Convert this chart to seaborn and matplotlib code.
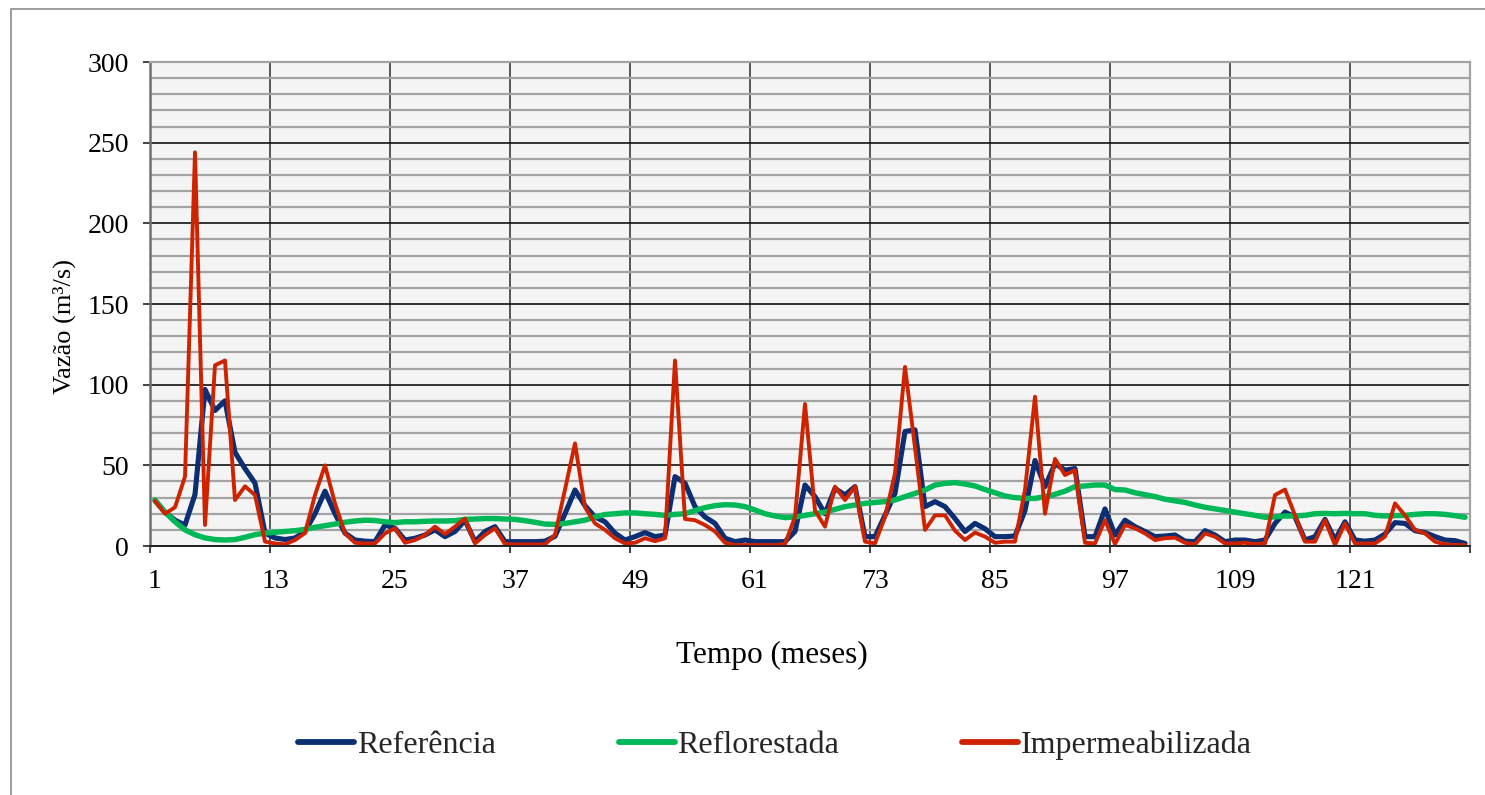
import numpy as np
import pandas as pd
import matplotlib
matplotlib.use("Agg")
import matplotlib.pyplot as plt
from matplotlib.ticker import MultipleLocator, FixedLocator, NullFormatter, FixedFormatter
from matplotlib.lines import Line2D
from matplotlib.patches import Rectangle
import seaborn as sns

# Monthly discharge (m³/s) for three land-use scenarios
months = list(range(1, 133))

referencia = [
    28, 21, 16, 13, 32, 97, 84, 90, 58, 48, 39, 8,
    5, 4, 5, 9, 20, 34, 20, 8, 3.7, 3, 2.7, 13,
    11, 3.7, 4.8, 6.8, 10, 5.8, 9, 16, 2.7, 9, 12, 2.7,
    2.7, 2.7, 2.7, 3, 6, 20, 34.7, 25, 18, 15, 8, 3.7,
    5.8, 8.3, 5.8, 6.8, 43, 39, 24.4, 18, 14, 4.8, 2.7, 3.7,
    2.7, 2.7, 2.7, 2.7, 9, 37.8, 30.6, 20, 35.7, 31.6, 36.8, 5.8,
    5.8, 19, 32.6, 71, 72, 24.4, 27.5, 24.4, 17, 9, 14, 10.7,
    5.8, 5.8, 6.2, 22, 53, 36.8, 51, 47, 48, 5.8, 5.8, 23,
    6.8, 16, 12, 9, 5.8, 6.2, 6.8, 3, 2.7, 9.5, 6.8, 2.7,
    3.7, 3.7, 2.7, 3.7, 14, 21, 18, 3.7, 5.8, 16.5, 3.7, 15,
    3.7, 3, 3.7, 7.4, 14.5, 14, 9.5, 8.3, 5.8, 3.7, 3.3, 1.6,
]

reflorestada = [
    28.5, 21, 15, 10, 7, 5, 4, 3.7, 4, 5.4, 7, 8,
    8.5, 9, 9.5, 10.3, 11.6, 12.6, 13.6, 14.7, 15.5, 16, 15.8, 15,
    14.5, 15, 15, 15.3, 15.5, 15.5, 15.7, 16.5, 16.7, 17, 17, 16.7,
    16.5, 15.7, 14.7, 13.6, 13.4, 14, 15, 16, 18, 19.5, 20, 20.5,
    20.5, 20, 19.6, 19, 19.6, 20, 22, 23.8, 25, 25.6, 25.4, 24.4,
    22.3, 20, 18.6, 17.6, 18, 19, 20, 21, 22.7, 24.4, 25.4, 26.4,
    27, 27.5, 28.5, 30.6, 32.6, 34.7, 37.8, 38.8, 39.3, 38.4, 37.2, 35,
    33, 31, 30, 29.5, 29.5, 30.6, 32, 34, 36.8, 37.2, 37.8, 37.8,
    35, 34.7, 33, 31.8, 30.6, 29, 28, 27, 25.4, 24, 23, 22,
    21, 20, 19, 17.8, 18, 18.6, 18.6, 19, 20, 20.2, 20, 20.2,
    20, 20, 19, 18.6, 18.8, 19, 19.6, 20, 20, 19.6, 18.8, 17.8,
]

impermeabilizada = [
    28, 20, 24, 43, 244, 13, 112, 115, 28.5, 37, 31.6, 2.7,
    1.6, 1, 3.7, 8, 31.6, 50, 26.4, 7.8, 2, 1.6, 1.6, 7.8,
    11, 2, 3.7, 6.8, 12, 7.4, 12, 17, 1.6, 6.8, 11, 1.2,
    1, 1, 1, 1, 6.8, 35, 63.6, 24, 14, 10, 4.8, 1.6,
    2, 4.8, 3, 4.8, 115, 16.7, 16, 13, 9, 2, 0.6, 0.6,
    0.6, 0.6, 0.6, 1.2, 18, 88, 22, 12, 36.8, 28.5, 36.8, 2.7,
    1.6, 18, 45, 111, 61, 10, 19, 19, 9.5, 3.7, 8.3, 5.8,
    2, 2.7, 2.7, 34.7, 92.5, 20, 54, 44, 47, 2, 1.6, 16,
    1.2, 13, 11, 7.8, 3.7, 4.8, 5.2, 2, 1, 7.8, 5.8, 1.6,
    1.6, 2, 1.2, 1.6, 31.6, 35, 19, 2.7, 2.7, 16, 0.6, 14,
    1.6, 1.6, 1.6, 5.8, 26.4, 19, 10, 7.8, 2.7, 1, 0.6, 0.6,
]

series_names = ["Referência", "Reflorestada", "Impermeabilizada"]
series_colors = ["#0c2f74", "#00b858", "#cf2300"]
series_widths = [3.7, 3.9, 2.8]
x_tick_labels = ["1", "13", "25", "37", "49", "61", "73", "85", "97", "109", "121"]
y_ticks = [0, 50, 100, 150, 200, 250, 300]

df = pd.DataFrame({
    "Tempo": months * 3,
    "Vazao": referencia + reflorestada + impermeabilizada,
    "Serie": np.repeat(series_names, len(months)),
})

sns.set_theme(style="white")
plt.rcParams["font.family"] = ["Liberation Serif", "DejaVu Serif"]

W, H = 1485, 795
fig = plt.figure(figsize=(W / 100, H / 100), dpi=100)
fig.patch.set_facecolor("white")

# outer chart frame
fig.add_artist(Rectangle((11 / W, -0.1), 1.2, 1 - 9 / H + 0.1, transform=fig.transFigure,
                         facecolor="none", edgecolor="#8c8c8c", linewidth=1.2))

ax = fig.add_axes([150 / W, 249 / H, 1320 / W, 484 / H])
ax.set_facecolor("#f4f4f4")

for name, color, lw in zip(series_names, series_colors, series_widths):
    sns.lineplot(data=df[df["Serie"] == name], x="Tempo", y="Vazao", color=color,
                 linewidth=lw, ax=ax, legend=False, solid_joinstyle="round")

n = len(months)
ax.set_xlim(0.5, n + 0.5)
ax.set_ylim(0, 300)

# category boundaries every 12 months carry the tick marks and vertical grid
ax.xaxis.set_major_locator(FixedLocator(np.arange(0.5, n + 1, 12)))
ax.xaxis.set_major_formatter(NullFormatter())
ax.xaxis.set_minor_locator(FixedLocator([int(t) for t in x_tick_labels]))
ax.xaxis.set_minor_formatter(FixedFormatter(x_tick_labels))
ax.yaxis.set_major_locator(FixedLocator(y_ticks))
ax.yaxis.set_minor_locator(MultipleLocator(10))

ax.set_axisbelow(True)
ax.yaxis.grid(True, which="minor", color="#a3a3a3", linewidth=1.6)
ax.yaxis.grid(True, which="major", color="#111111", linewidth=1.2)
ax.xaxis.grid(True, which="major", color="#3c3c3c", linewidth=1.2)

ax.tick_params(axis="x", which="major", bottom=True, length=5, width=1.2, color="#222222")
ax.tick_params(axis="x", which="minor", bottom=True, length=0, pad=16.5, labelsize=20, labelcolor="black")
ax.tick_params(axis="y", which="major", left=True, length=5, width=1.2, color="#222222",
               pad=10, labelsize=20, labelcolor="black")
ax.tick_params(axis="y", which="minor", left=False)

for side in ["top", "right"]:
    ax.spines[side].set_color("#a3a3a3")
    ax.spines[side].set_linewidth(1.6)
ax.spines["left"].set_color("#6e6e6e")
ax.spines["left"].set_linewidth(1.8)
ax.spines["bottom"].set_color("#222222")
ax.spines["bottom"].set_linewidth(1.4)

ax.set_xlabel("Tempo (meses)", fontsize=22.5, color="black", ha="center", va="center")
ax.set_ylabel("Vazão (m³/s)", fontsize=19, color="black", ha="center", va="center")
ax.xaxis.set_label_coords((772 - 150) / 1320, (546 - 655) / 484)
ax.yaxis.set_label_coords((64 - 150) / 1320, (546 - 327) / 484)

handles = [Line2D([0], [0], color=c, linewidth=4.2, solid_capstyle="round") for c in series_colors]
fig.legend(handles, series_names, loc="center", bbox_to_anchor=(775 / W, 1 - 745 / H),
           ncol=3, frameon=False, fontsize=23, handlelength=1.75, handletextpad=0.08,
           columnspacing=3.85)

fig.savefig("out.png", dpi=100, facecolor="white")
